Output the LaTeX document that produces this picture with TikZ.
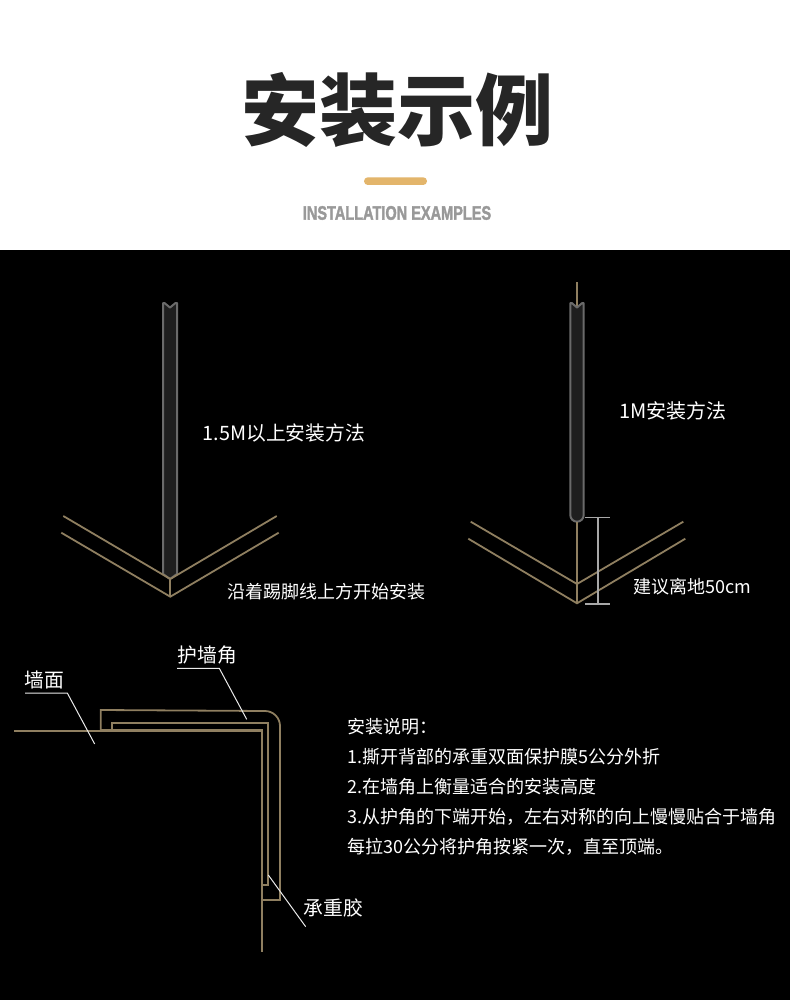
\documentclass[tikz,border=0pt]{standalone}
\usepackage{fontspec}
\setmainfont{Noto Sans CJK SC}
\newfontfamily\cjkbold{Noto Sans CJK SC Black}
\newfontfamily\latinbold[RawFeature={embolden=2.2}]{Liberation Sans Bold}
\newcommand{\fwcomma}{\symbol{"FF0C}}
\newcommand{\fwcolon}{\symbol{"FF1A}}
\definecolor{gold}{HTML}{8F7F60}
\definecolor{stripfill}{HTML}{1E1E1E}
\definecolor{stripedge}{HTML}{6A6A6A}
\definecolor{pill}{HTML}{E3B56B}
\definecolor{dimgrey}{HTML}{A8A8A8}
\tikzset{
  x=1pt,y=-1pt,
  lab/.style={text=white,inner sep=0pt,anchor=west,font=\fontsize{19.8pt}{22pt}\selectfont},
  note/.style={text=white,inner sep=0pt,anchor=west,font=\fontsize{18pt}{22pt}\selectfont},
  goldline/.style={draw=gold,line width=1.8pt},
  strip/.style={draw=stripedge,fill=stripfill,line width=2pt,line join=round},
  dimline/.style={draw=dimgrey,line width=1.4pt},
  leader/.style={draw=white!92!black,line width=1pt},
}
\begin{document}
\begin{tikzpicture}
\useasboundingbox (0,0) rectangle (790,1000);
\fill[white] (0,0) rectangle (790,250);
\fill[black] (0,250) rectangle (790,1000);
% header
\node[inner sep=0pt,text=black!85] (title) at (397,110) {\cjkbold\fontsize{78pt}{80pt}\selectfont 安装示例};
\fill[pill,rounded corners=3.8pt] (364,177.3) rectangle (427,185);
\node[inner sep=0pt,text=black!40] (subtitle) at (397,213) {\scalebox{0.745}[1]{\latinbold\fontsize{19.5pt}{22pt}\selectfont INSTALLATION EXAMPLES}};
% left method
\path[strip] (163,303) -- (164.5,303) -- (170,307.5) -- (175.5,303) -- (177,303) -- (177,574) -- (170,579) -- (163,574) -- cycle;
\draw[goldline] (63.3,516) -- (170.3,579) -- (276.7,516);
\draw[goldline] (61.3,532.7) -- (170.3,596.7) -- (278.7,532.7);
\draw[goldline] (170.3,579) -- (170.3,596.7);
% right method
\draw[goldline] (577,282) -- (577,308);
\path[strip] (570.3,303) -- (571.8,303) -- (577,307.5) -- (582.2,303) -- (583.7,303) -- (583.7,515) arc[start angle=0,end angle=-180,radius=6.7,y radius=-6.7] -- cycle;
\draw[goldline] (577,522) -- (577,603);
\draw[goldline] (470.7,521.7) -- (577,584) -- (683.3,521.7);
\draw[goldline] (468.3,538.7) -- (577,603.3) -- (685.3,538.7);
\draw[dimline] (585,517.7) -- (610,517.7) (598,517.7) -- (598,604) (585,604) -- (610,604);
% cross-section
\draw[gold,line width=1.8pt,line join=miter] (100.7,731) -- (100.7,710) -- (265,711) arc[start angle=-90,end angle=0,radius=15] -- (280,900) -- (262,900);
\draw[gold,line width=2pt] (112.3,730) -- (112.3,723) -- (268,723) -- (268,884.7) -- (262,884.7);
\draw[gold,line width=1.8pt] (14,731) -- (100,731);
\draw[gold,line width=3.4pt] (100,730.3) -- (262,730.3);
\draw[gold,line width=2.6pt] (262,729) -- (262,951.7);
% labels
\node[lab] (l1) at (202.5,433) {1.5M以上安装方法};
\node[note] (l2) at (227.5,591.5) {沿着踢脚线上方开始安装};
\node[lab,font=\fontsize{20pt}{22pt}\selectfont] (l3) at (619,411) {1M安装方法};
\node[note] (l4) at (633.5,586.5) {建议离地50cm};
\node[lab] (l5) at (177.5,655) {护墙角};
\node[lab] (l6) at (24.5,680) {墙面};
\node[lab] (l7) at (303.5,908) {承重胶};
\node[note] (n0) at (347.5,726.5) {安装说明\fwcolon};
\node[note] (n1) at (347.5,756.5) {1.撕开背部的承重双面保护膜5公分外折};
\node[note] (n2) at (347.5,786.5) {2.在墙角上衡量适合的安装高度};
\node[note] (n3) at (347.5,816.5) {3.从护角的下端开始\fwcomma 左右对称的向上慢慢贴合于墙角};
\node[note] (n4) at (347.5,846.5) {每拉30公分将护角按紧一次\fwcomma 直至顶端。};
% leaders
\coordinate (a1) at (177,668.3); \coordinate (a2) at (219.3,668.3); \coordinate (a3) at (246.7,719.3);
\coordinate (b1) at (25,693); \coordinate (b2) at (67.3,693); \coordinate (b3) at (94.7,744);
\coordinate (c1) at (268.3,875); \coordinate (c2) at (305.7,926.7);
\draw[leader] (a1) -- (a2) -- (a3);
\draw[leader] (b1) -- (b2) -- (b3);
\draw[leader] (c1) -- (c2);
\end{tikzpicture}
\end{document}
